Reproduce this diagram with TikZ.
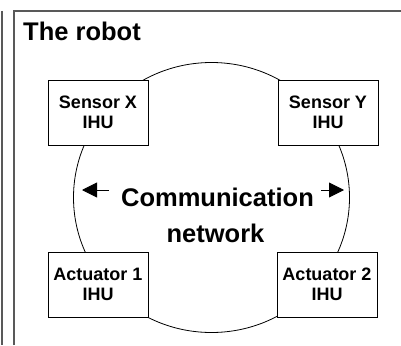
\documentclass[tikz,border=0pt]{standalone}
\usepackage{fontspec}
\setmainfont{Liberation Sans}
\usetikzlibrary{arrows.meta}

\tikzset{
  ihu/.style = {draw, fill=white, line width=0.9pt, minimum width=100pt, minimum height=65pt,
                align=center, inner sep=0pt, font=\fontsize{18}{20}\selectfont\bfseries},
  big/.style = {inner sep=0pt, font=\fontsize{25.5}{30}\selectfont\bfseries},
  netarrow/.style = {-{Triangle[length=15pt, width=15pt]}, line width=0.9pt}
}

\begin{document}
\begin{tikzpicture}[x=1pt, y=-1pt]
\useasboundingbox (0,0) rectangle (401,345);
\draw [line width=1.5pt, black!65] (2,11) -- (2,345);
\draw [line width=1.5pt, black!65] (14,345) -- (14,11) -- (401,11);
\node [big, anchor=base west] (title) at (23,41) {The robot};

\draw [line width=0.8pt] (211.5,197.5) ellipse [x radius=138, y radius=135];

\node [ihu] (sx) at (98,112.5) {Sensor X\\IHU};
\node [ihu] (sy) at (328,112.5) {Sensor Y\\IHU};
\node [ihu] (a1) at (98,284.5) {Actuator 1\\IHU};
\node [ihu] (a2) at (327,284.5) {Actuator 2\\IHU};

\node [big, anchor=base] (comm) at (217.5,206) {Communication};
\node [big, anchor=base] (netw) at (215.5,242) {network};

\coordinate (lt) at (82,190);
\coordinate (rt) at (344,190);
\draw [netarrow] ([xshift=-12pt]comm.west |- lt) -- (lt);
\draw [netarrow] ([xshift=7pt]comm.east |- rt) -- (rt);
\end{tikzpicture}
\end{document}
